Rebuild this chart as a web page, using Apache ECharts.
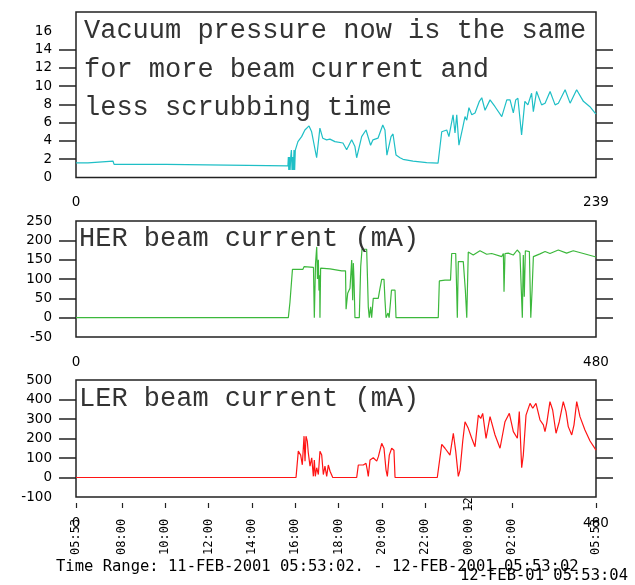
<!DOCTYPE html>
<html><head><meta charset="utf-8">
<script src="https://cdn.jsdelivr.net/npm/echarts@6/dist/echarts.min.js"></script>
<style>html,body{margin:0;padding:0;background:#fff}#c{width:635px;height:585px}</style>
</head><body><div id="c"></div>
<script>
// Vacuum pressure (index 0..239)
const topX=[0,5.5,6,17,17.5,41.5,42,97.4,97.6,97.8,98.1,98.4,98.7,99,99.3,99.6,99.9,100.2,100.5,100.8,101.4,102,103.7,105.2,107.1,108.3,110.6,112.1,113.4,115.2,116.7,119,122.7,124.4,126.7,128.2,129,131.3,133.3,135.4,136.5,138.8,141,142,142.9,144.8,145.7,147.1,148.9,150.3,154.9,161.2,166.4,168.1,170.4,171.4,173.3,174.2,175,176,177.7,178.8,179.6,180.6,181.9,183.4,185.4,186.5,188,190.3,192.6,195.7,198,199.5,201,202.1,203.1,204.8,206.3,207.7,209.4,210.2,211.7,214,215.6,217.9,220.2,221.7,224.8,227.1,230.1,233.2,236.2,238.5,239];
const topY=[1.59,1.59,1.8,1.8,1.44,1.44,1.25,1.27,2.25,0.83,2.25,0.83,2.25,3.0,0.83,2.25,0.83,3.0,0.83,3.0,3.0,3.92,4.47,5.2,5.64,5.0,2.16,5.4,4.3,4.12,4.2,3.92,3.77,3.04,4.12,3.38,2.16,4.47,5.2,3.53,4.12,4.3,5.74,5.2,2.45,4.47,4.76,2.45,2.16,1.99,1.8,1.63,1.57,5.0,5.2,4.47,6.86,4.87,6.86,3.53,5.4,6.66,6.27,7.64,6.86,7.06,8.33,8.72,7.35,8.49,7.74,6.66,8.49,8.49,7.06,8.49,8.67,4.66,8.33,7.94,9.21,7.2,9.41,7.94,8.13,9.41,7.94,8.13,9.6,8.13,9.6,8.33,7.74,7.06,6.96];
// HER beam current (index 0..480)
const herX=[0,196,197.5,199.8,209.5,210.5,219.2,220,221.1,222.2,222.9,223.7,224.3,224.9,225.2,225.8,234.5,245.3,248.8,249.3,250.8,252.9,254.5,255.4,256,256.6,257.5,261.5,262.8,264,268.3,269.2,269.8,270.7,272,272.9,274.4,279,280.6,282.2,284.3,285.2,286.2,288,289,290.3,291.2,294.5,295.4,334.4,335.4,340.6,345.7,346.8,350.5,351.4,352,352.9,357.5,359.4,360.7,362.1,366.7,372.9,379.1,383.7,393,394.5,395.1,396,399,403.6,407.3,409.8,412,412.9,413.8,414.8,418.5,419.8,421,422.2,428.3,433,437.5,445.2,452.9,459,468.3,480];
const herY=[0,0,40,125,125,132,130,0,140,183,100,150,70,110,0,128,126,121,121,22,63,76,149,45,141,100,0,0,132,177,177,89,28,0,28,0,50,50,76,99,99,46,0,12,0,40,71,71,0,0,95,97,97,166,166,71,0,145,145,71,0,170,162,173,164,166,158,166,67,166,167,162,175,167,0,162,54,173,171,0,71,158,165,171,166,175,167,173,166,157];
// LER beam current (index 0..480)
const lerX=[0,203.1,205.2,207.4,208.9,210.5,211.4,212.3,213.5,214.4,216,217.6,219.1,220,220.9,222.2,223.7,225.2,226.8,228.3,229.8,231.4,232.9,234.5,237,259.1,260.6,265.2,267.7,268.9,269.8,271.4,274.4,277.6,279.1,282.2,284.3,286.2,287.4,289.2,291.4,293.5,294.5,333.5,337.6,340.6,345.2,348.3,350.5,352.9,354.5,357,359.1,362.1,365.3,368.3,371.4,373.6,375.4,378.5,382.2,386.8,391.4,396,400,403.7,407.4,409.2,411.4,412.9,415.4,419.1,421.6,424.6,428.3,431.4,432.9,434.5,437.5,440,443.1,446.1,449.8,452.3,454.4,457.6,459.7,462.2,465.2,469.8,474.5,480];
const lerY=[0,0,135,115,65,212,84,212,187,128,58,101,6,90,6,50,15,135,115,15,58,6,64,32,0,0,64,64,73,38,6,90,101,84,107,175,150,38,6,115,150,140,0,0,170,150,115,227,135,6,38,187,286,252,201,158,320,303,329,201,312,218,150,286,329,235,201,338,50,115,320,380,355,380,295,270,235,278,389,346,227,286,389,338,261,218,270,389,312,244,187,140];
// axis ticks / labels
const topLabels=[0,2,4,6,8,10,12,14,16];
const topTicks=[2,4,6,8,10,12,14];
const herLabels=[-50,0,50,100,150,200,250];
const herTicks=[0,50,100,150,200];
const lerLabels=[-100,0,100,200,300,400,500];
const lerTicks=[0,100,200,300,400];
const timeIdx=[0,42.33,82.33,122.33,162.33,202.33,242.33,282.33,322.33,362.33,402.33,480];
const timeLabels=['05:53','08:00','10:00','12:00','14:00','16:00','18:00','20:00','22:00','00:00 12','02:00','05:53'];

const pairs=(xs,ys)=>xs.map((x,i)=>[x,ys[i]]);
const lblFont={fontFamily:'DejaVu Sans',fontSize:13.5,color:'#000'};
const gridBase={left:76,width:520,show:true,borderColor:'#222',borderWidth:1.5,backgroundColor:'#fff'};
function yAx(grid,min,max,labels,ticks,pos){
  return {type:'value',gridIndex:grid,position:pos,min:min,max:max,
    axisLine:{show:false,onZero:false},splitLine:{show:false},
    axisTick:{show:true,customValues:ticks,length:17,lineStyle:{color:'#222',width:1.5}},
    axisLabel:pos==='left'?Object.assign({show:true,customValues:labels,margin:24},lblFont):{show:false}};
}
function xAx(grid,max,margin){
  return {type:'value',gridIndex:grid,position:'bottom',min:0,max:max,axisLine:{show:false,onZero:false},axisTick:{show:false},splitLine:{show:false},
    axisLabel:Object.assign({customValues:[0,max],margin:margin},lblFont)};
}
const chart=echarts.init(document.getElementById('c'),null,{renderer:'canvas'});
const monoBig={font:'27px "Liberation Mono"',fill:'#333'};
chart.setOption({
  animation:false,
  backgroundColor:'#fff',
  grid:[Object.assign({top:12,height:165.5},gridBase),Object.assign({top:221,height:116},gridBase),Object.assign({top:380,height:117},gridBase)],
  xAxis:[xAx(0,239,18),xAx(1,480,18),xAx(2,480,19),
    {type:'value',gridIndex:2,position:'bottom',min:0,max:480,offset:6,axisLine:{show:false,onZero:false},splitLine:{show:false},
     axisTick:{show:true,customValues:timeIdx,length:5,lineStyle:{color:'#222',width:1.2}},
     axisLabel:{customValues:timeIdx,rotate:90,align:'left',verticalAlign:'middle',margin:52,fontFamily:'DejaVu Sans Mono',fontSize:12,color:'#000',hideOverlap:false,
       formatter:v=>{let b=0;for(let i=1;i<timeIdx.length;i++){if(Math.abs(timeIdx[i]-v)<Math.abs(timeIdx[b]-v))b=i;}return timeLabels[b];}}}],
  yAxis:[yAx(0,0,18.1,topLabels,topTicks,'left'),yAx(0,0,18.1,topLabels,topTicks,'right'),
    yAx(1,-50,250,herLabels,herTicks,'left'),yAx(1,-50,250,herLabels,herTicks,'right'),
    yAx(2,-100,500,lerLabels,lerTicks,'left'),yAx(2,-100,500,lerLabels,lerTicks,'right')],
  series:[
    {type:'line',xAxisIndex:0,yAxisIndex:0,data:pairs(topX,topY),showSymbol:false,lineStyle:{color:'#1fbfc6',width:1.2},itemStyle:{color:'#1fbfc6'}},
    {type:'line',xAxisIndex:1,yAxisIndex:2,data:pairs(herX,herY),showSymbol:false,lineStyle:{color:'#3cb83c',width:1.2},itemStyle:{color:'#3cb83c'}},
    {type:'line',xAxisIndex:2,yAxisIndex:4,data:pairs(lerX,lerY),showSymbol:false,lineStyle:{color:'#ff1414',width:1.2},itemStyle:{color:'#ff1414'}}
  ],
  graphic:[
    {type:'text',left:84,top:17,style:Object.assign({text:'Vacuum pressure now is the same'},monoBig),z:10},
    {type:'text',left:84,top:56,style:Object.assign({text:'for more beam current and'},monoBig),z:10},
    {type:'text',left:84,top:94,style:Object.assign({text:'less scrubbing time'},monoBig),z:10},
    {type:'text',left:79,top:225,style:Object.assign({text:'HER beam current (mA)'},monoBig),z:10},
    {type:'text',left:79,top:385,style:Object.assign({text:'LER beam current (mA)'},monoBig),z:10},
    {type:'text',left:56,top:559,style:{text:'Time Range: 11-FEB-2001 05:53:02. - 12-FEB-2001 05:53:02',font:'15.5px "DejaVu Sans Mono"',fill:'#000'},z:10},
    {type:'text',left:460,top:568,style:{text:'12-FEB-01 05:53:04',font:'15.5px "DejaVu Sans Mono"',fill:'#000'},z:10}
  ]
});
</script></body></html>
